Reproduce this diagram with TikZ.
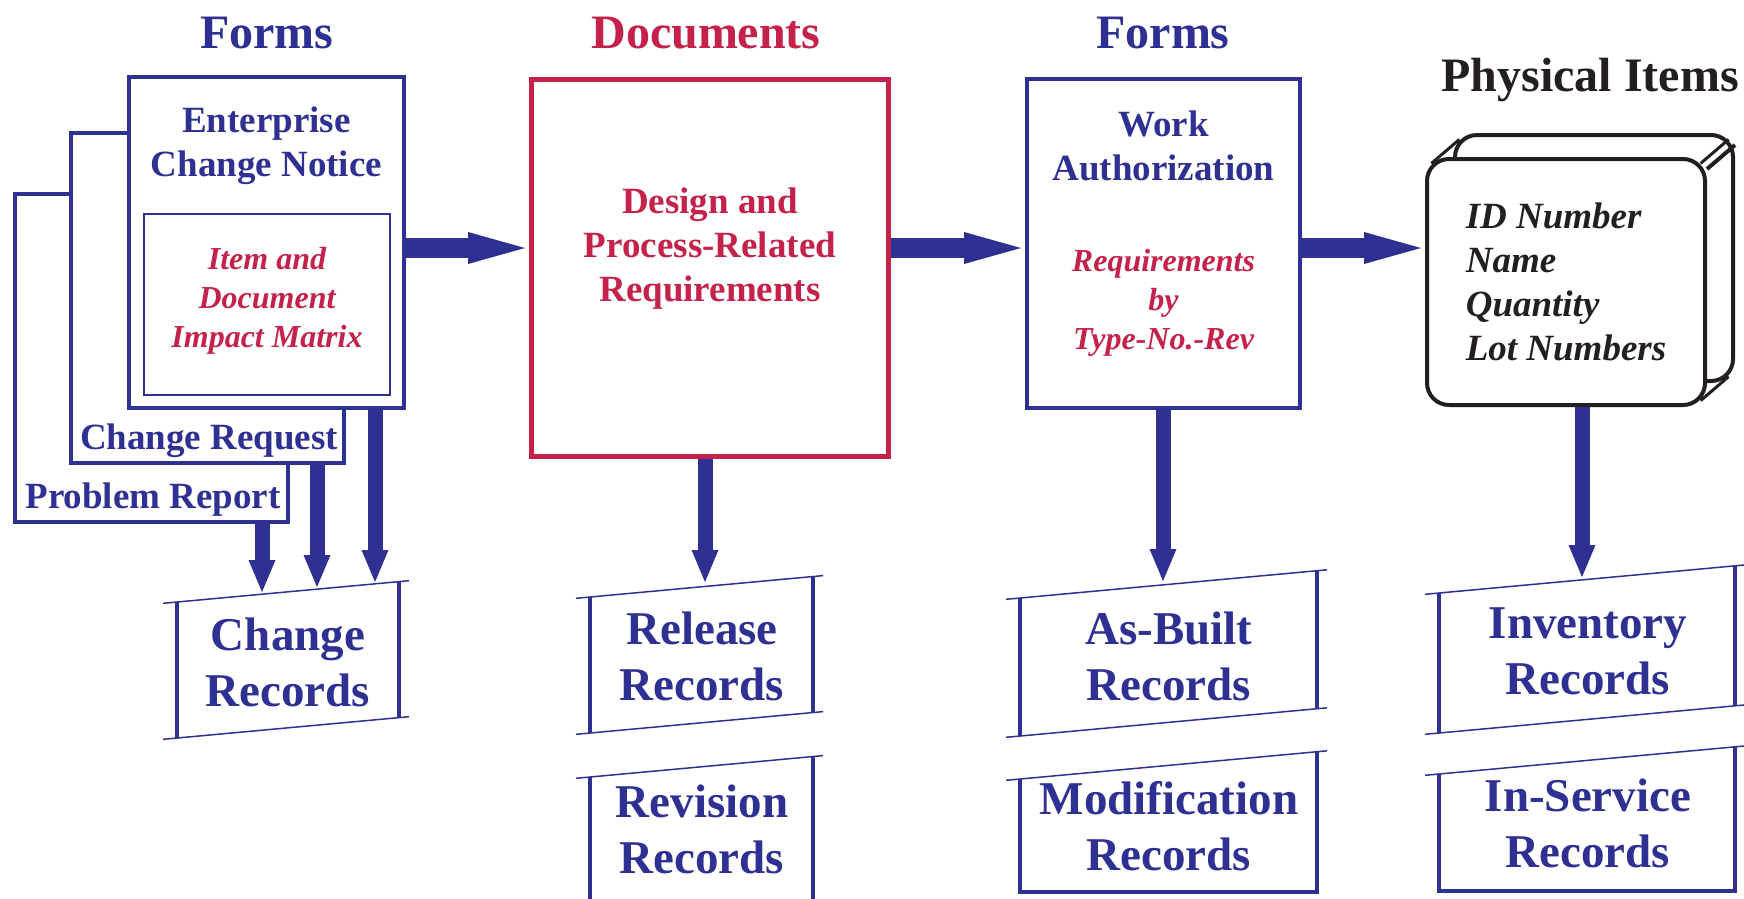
\documentclass[tikz,border=0pt]{standalone}
\usepackage{fontspec}
\setmainfont{Liberation Serif}
\usetikzlibrary{positioning,arrows.meta}
\definecolor{formBlue}{RGB}{46,49,146}
\definecolor{docRed}{RGB}{196,34,74}
\definecolor{itemBlack}{RGB}{35,31,32}

\begin{document}
\begin{tikzpicture}[
    x=1pt, y=-1pt,
    formbox/.style={draw=formBlue, line width=4pt, fill=white, inner sep=0pt},
    itembox/.style={draw=itemBlack, line width=4pt, fill=white, rounded corners=22pt, minimum width=278pt, minimum height=246pt},
    header/.style={font=\fontsize{48}{52}\selectfont\bfseries},
    ttl/.style={font=\fontsize{37}{44}\selectfont\bfseries, align=center, inner sep=0pt},
    subtxt/.style={font=\fontsize{32}{39}\selectfont\bfseries\itshape, align=center, text=docRed, inner sep=0pt},
    rec/.style={font=\fontsize{47}{56}\selectfont\bfseries, align=center, text=formBlue, inner sep=0pt},
    recbar/.style={formBlue, line width=4.5pt},
    recline/.style={formBlue, line width=1.5pt},
    fatarr/.style={formBlue, line width=20pt, -{Triangle[length=57pt,width=32pt,line width=0pt]}},
    downarr/.style={formBlue, line width=15pt, -{Triangle[length=32pt,width=27pt,line width=0pt]}},
]
\path[use as bounding box, fill=white] (0,0) rectangle (1744,898);

% Headers
\node[header, text=formBlue] (hforms) at (267,33) {Forms};
\node[header, text=docRed] (hdocs) at (706,33) {Documents};
\node[header, text=formBlue] (hwork) at (1163,33) {Forms};
\node[header, text=itemBlack] (hitems) at (1590,80) {Physical Items};

% Forms stack
\node[formbox, minimum width=273pt, minimum height=328pt] (pr) at (151.5,358) {};
\node[ttl, text=formBlue] at (153,500) {Problem Report};
\node[formbox, minimum width=273pt, minimum height=330pt] (cr) at (207.5,298) {};
\node[ttl, text=formBlue] at (209,441) {Change Request};
\node[formbox, minimum width=275pt, minimum height=331pt] (ecn) at (266.5,242.5) {};
\node[ttl, text=formBlue] (ecnttl) at (266.5,146) {Enterprise\\Change Notice};
\node[draw=formBlue, line width=1.2pt, minimum width=246pt, minimum height=181pt] (matrix) at (267,304.5) {};
\node[subtxt] at (267,301) {Item and\\Document\\Impact Matrix};

% Documents
\node[draw=docRed, line width=5pt, fill=white, minimum width=357pt, minimum height=377pt] (docs) at (710,268) {};
\node[ttl, text=docRed] at (710,249) {Design and\\Process-Related\\Requirements};

% Work authorization
\node[formbox, minimum width=273pt, minimum height=329pt] (wa) at (1163.5,243.5) {};
\node[ttl, text=formBlue] at (1163.5,146) {Work\\Authorization};
\node[subtxt] at (1163.5,303) {Requirements\\by\\Type-No.-Rev};

% Physical item
\node[itembox] (piback) at (1594,258) {};
\node[itembox, font=\fontsize{37}{44}\selectfont\bfseries\itshape, text=itemBlack, align=left] (pi) at (1566,282)
    {ID Number\\Name\\Quantity\\Lot Numbers};
\draw[itemBlack, line width=3pt] ([shift={(6.4,6.4)}]pi.north west) -- ([shift={(6.4,6.4)}]piback.north west);
\draw[itemBlack, line width=3pt] ([shift={(-6.4,6.4)}]pi.north east) -- ([shift={(-6.4,6.4)}]piback.north east);
\draw[itemBlack, line width=3pt] ([shift={(-6.4,-6.4)}]pi.south east) -- ([shift={(-6.4,-6.4)}]piback.south east);
\draw[itemBlack, line width=4pt] ([shift={(0,12)}]pi.north east) -- ([shift={(0,12)}]piback.north east);

% Records
\node[rec] (chg) at (288,662) {Change\\Records};
\draw[recline] (163,603.3) -- (409,580.7) (163,739.3) -- (409,716.7);
\draw[recbar] (177,602) -- (177,738) (399,581.6) -- (399,717.6);

\node[rec] (rel) at (702,656) {Release\\Records};
\draw[recline] (576,598.3) -- (823,575.6) (576,734.3) -- (823,711.6);
\draw[recbar] (590,597) -- (590,733) (813,576.5) -- (813,712.5);

\node[rec] (rev) at (702,829) {Revision\\Records};
\draw[recline] (576,778.3) -- (823,755.6);
\draw[recbar] (590,777) -- (590,905) (813,756.5) -- (813,905);

\node[rec] (asb) at (1169,656) {As-Built\\Records};
\draw[recline] (1006,599.3) -- (1327,569.8) (1006,737.3) -- (1327,707.8);
\draw[recbar] (1020,598) -- (1020,736) (1317,570.7) -- (1317,708.7);

\node[rec] (mod) at (1169,826) {Modification\\Records};
\draw[recline] (1006,780.3) -- (1327,750.8);
\draw[recbar] (1020,779) |- (1317,892) -- (1317,751.7);

\node[rec] (inv) at (1588,651) {Inventory\\Records};
\draw[recline] (1425,594.3) -- (1745,564.9) (1425,734.3) -- (1745,704.9);
\draw[recbar] (1439,593) -- (1439,733) (1735,565.8) -- (1735,705.8);

\node[rec] (isv) at (1588,823) {In-Service\\Records};
\draw[recline] (1425,775.3) -- (1745,745.9);
\draw[recbar] (1439,774) |- (1735,891) -- (1735,746.8);

% Arrows
\coordinate (arrowrow) at (0,248);
\draw[fatarr, shorten >=4pt] (ecn.east |- arrowrow) -- (docs.west |- arrowrow);
\draw[fatarr, shorten >=4pt] (docs.east |- arrowrow) -- (wa.west |- arrowrow);
\draw[fatarr, shorten >=4pt] (wa.east |- arrowrow) -- (pi.west |- arrowrow);

\coordinate (chgA) at (375,582);
\coordinate (chgB) at (317,587);
\coordinate (chgC) at (262,592);
\coordinate (relA) at (705,582);
\coordinate (asbA) at (1163,581);
\coordinate (invA) at (1582,577);
\draw[downarr] (ecn.south -| chgA) -- (chgA);
\draw[downarr] (cr.south -| chgB) -- (chgB);
\draw[downarr] (pr.south -| chgC) -- (chgC);
\draw[downarr] (docs.south -| relA) -- (relA);
\draw[downarr] (wa.south -| asbA) -- (asbA);
\draw[downarr] (pi.south -| invA) -- (invA);
\end{tikzpicture}
\end{document}
